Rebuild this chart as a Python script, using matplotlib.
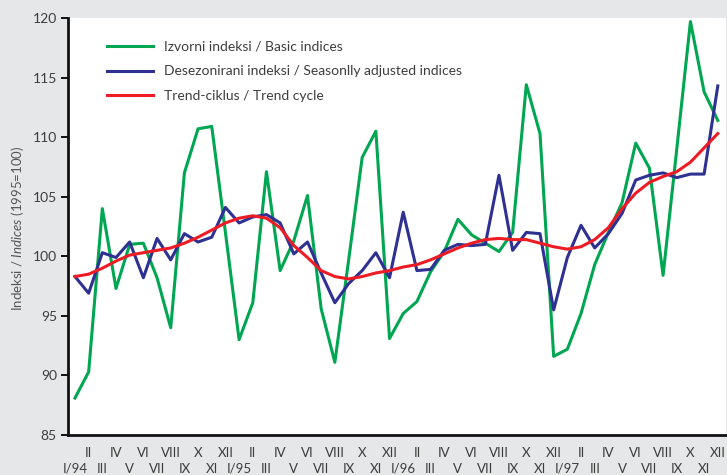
import matplotlib
matplotlib.use("Agg")
import matplotlib.pyplot as plt
import numpy as np

plt.rcParams["font.family"] = ["Lato", "DejaVu Sans"]
plt.rcParams["mathtext.fontset"] = "custom"
plt.rcParams["mathtext.rm"] = "Lato"
plt.rcParams["mathtext.it"] = "Lato:italic"

months = ["I", "II", "III", "IV", "V", "VI", "VII", "VIII", "IX", "X", "XI", "XII"]
years = ["94", "95", "96", "97"]

# izvorni indeksi / basic indices, I/94 - XII/97
basic = [88.1, 90.3, 104.0, 97.3, 101.0, 101.1, 98.2, 94.0, 107.0, 110.7, 110.9, 102.0,
         93.0, 96.1, 107.1, 98.8, 101.3, 105.1, 95.6, 91.1, 99.6, 108.3, 110.5, 93.1,
         95.2, 96.2, 98.7, 100.4, 103.1, 101.8, 101.1, 100.4, 102.0, 114.4, 110.3, 91.6,
         92.2, 95.2, 99.3, 102.0, 104.5, 109.5, 107.4, 98.4, 109.0, 119.7, 113.8, 111.4]

# desezonirani indeksi / seasonally adjusted
adjusted = [98.3, 96.9, 100.3, 99.9, 101.2, 98.2, 101.5, 99.7, 101.9, 101.2, 101.6, 104.1,
            102.8, 103.3, 103.5, 102.8, 100.2, 101.2, 98.6, 96.1, 97.7, 98.8, 100.3, 98.2,
            103.7, 98.8, 98.9, 100.5, 101.0, 100.9, 101.0, 106.8, 100.5, 102.0, 101.9, 95.5,
            99.9, 102.6, 100.7, 101.9, 103.6, 106.4, 106.8, 107.0, 106.6, 106.9, 106.9, 114.3]

# trend-ciklus / trend cycle
trend = [98.3, 98.5, 99.0, 99.6, 100.1, 100.3, 100.5, 100.7, 101.1, 101.6, 102.2, 102.8,
         103.2, 103.4, 103.2, 102.4, 100.9, 99.9, 98.8, 98.3, 98.1, 98.3, 98.6, 98.8,
         99.1, 99.3, 99.7, 100.2, 100.7, 101.1, 101.4, 101.5, 101.4, 101.4, 101.1, 100.8,
         100.6, 100.8, 101.4, 102.4, 104.0, 105.3, 106.2, 106.7, 107.1, 107.9, 109.1, 110.3]

labels = []
for y in years:
    for i, m in enumerate(months):
        labels.append(m + "/" + y if i == 0 else m)

x = np.arange(len(basic))
text_col = "#3d3d3d"

fig = plt.figure(figsize=(7.27, 4.75), dpi=100, facecolor="#e6e7e8")
ax = fig.add_axes([68 / 727, 40 / 475, 658 / 727, 417 / 475])
ax.set_facecolor("white")

ax.plot(x, basic, color="#00a651", lw=2.2, label="Izvorni indeksi / Basic indices")
ax.plot(x, adjusted, color="#2e3192", lw=2.2,
        label="Desezonirani indeksi / Seasonlly adjusted indices")
ax.plot(x, trend, color="#ed1c24", lw=2.2, label="Trend-ciklus / Trend cycle")

ax.set_xlim(-0.51, 47.6)
ax.set_ylim(85, 120)
ax.set_yticks(range(85, 121, 5))

ax.set_xticks(x[::2])
ax.set_xticklabels(labels[::2])
ax.set_xticks(x[1::2], minor=True)
ax.set_xticklabels(labels[1::2], minor=True)
ax.tick_params(axis="x", which="both", length=0, width=0)
ax.tick_params(axis="x", which="major", pad=20, labelsize=9.5, labelcolor=text_col)
ax.tick_params(axis="x", which="minor", pad=8.5, labelsize=9.5, labelcolor=text_col)
ax.tick_params(axis="y", length=5, width=1.3, pad=3, labelsize=10, labelcolor=text_col)

for s in ["top", "right"]:
    ax.spines[s].set_visible(False)
for s in ["left", "bottom"]:
    ax.spines[s].set_linewidth(2)
    ax.spines[s].set_color("#111111")

fig.text(18 / 727, 0.52, r"Indeksi / $\it{Indices}$ (1995=100)", rotation=90,
         ha="center", va="center", fontsize=9.5, color="#555555")

ax.legend(loc="upper left", bbox_to_anchor=(0.059, 0.945), frameon=False,
          borderpad=0, borderaxespad=0, handlelength=3.3, handletextpad=0.85,
          labelspacing=0.9, fontsize=10, labelcolor=text_col)

fig.savefig("out.png", dpi=100, facecolor=fig.get_facecolor())
